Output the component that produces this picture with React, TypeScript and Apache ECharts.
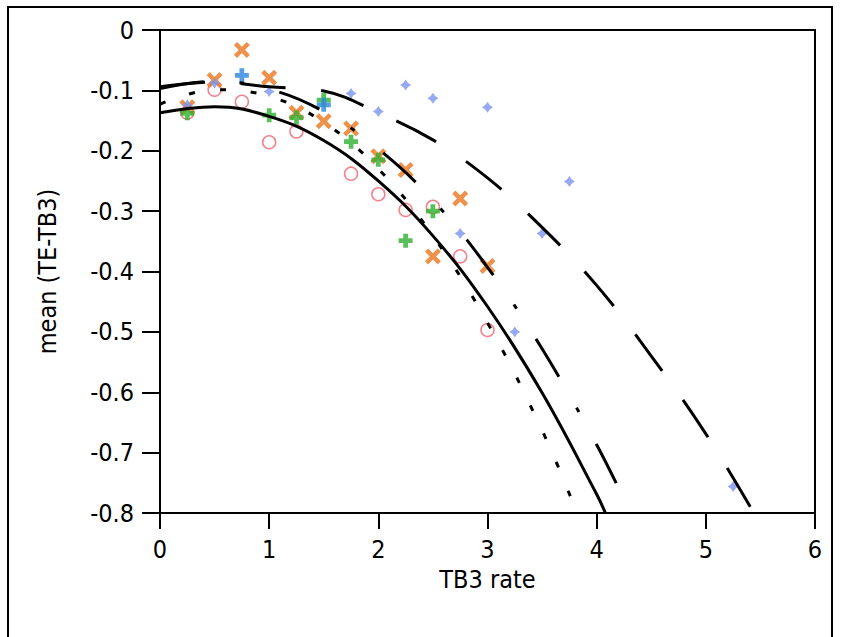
import React, { useEffect, useRef } from "react";
import * as echarts from "echarts";

// Scatter markers (TB3 rate, mean TE-TB3)
const redX = [0.25, 0.5, 0.75, 1.0, 1.25, 1.75, 2.0, 2.25, 2.5, 2.75, 3.0];
const redY = [-0.137, -0.099, -0.119, -0.186, -0.168, -0.238, -0.272, -0.298, -0.293, -0.375, -0.497];

const orangeX = [0.25, 0.5, 0.75, 1.0, 1.25, 1.5, 1.75, 2.0, 2.25, 2.5, 2.75, 3.0];
const orangeY = [-0.128, -0.083, -0.033, -0.079, -0.137, -0.151, -0.163, -0.209, -0.232, -0.375, -0.279, -0.391];

const greenX = [0.25, 1.0, 1.25, 1.5, 1.75, 2.0, 2.25, 2.5];
const greenY = [-0.138, -0.141, -0.145, -0.116, -0.185, -0.215, -0.349, -0.3];

const blueX = [0.75, 1.5];
const blueY = [-0.075, -0.124];

const lightX = [0.25, 0.5, 1.0, 1.75, 2.0, 2.25, 2.5, 2.75, 3.0, 3.25, 3.5, 3.75, 5.25];
const lightY = [-0.124, -0.088, -0.102, -0.105, -0.135, -0.091, -0.113, -0.337, -0.128, -0.5, -0.337, -0.251, -0.756];

// Fitted curves
const solidX = [0, 0.5, 1, 1.5, 2, 2.5, 3, 3.5, 4, 4.08];
const solidY = [-0.137, -0.127, -0.143, -0.183, -0.25, -0.341, -0.458, -0.601, -0.769, -0.8];

const dottedX = [0, 0.5, 1, 1.5, 2, 2.5, 3, 3.5, 3.82];
const dottedY = [-0.123, -0.099, -0.11, -0.153, -0.23, -0.341, -0.485, -0.663, -0.8];

const dashDotX = [0, 0.5, 1, 1.5, 2, 2.5, 3, 3.5, 4, 4.31];
const dashDotY = [-0.097, -0.085, -0.098, -0.135, -0.197, -0.282, -0.393, -0.528, -0.687, -0.8];

const longDashX = [0, 0.5, 1, 1.5, 2, 2.5, 3, 3.5, 4, 4.5, 5, 5.44];
const longDashY = [-0.094, -0.086, -0.094, -0.101, -0.137, -0.182, -0.245, -0.327, -0.423, -0.54, -0.669, -0.8];

const xTicks = [0, 1, 2, 3, 4, 5, 6];

const zip = (xs: number[], ys: number[]) => xs.map((x, i) => [x, ys[i]]);

const FONT = "'DejaVu Sans Condensed', 'Liberation Sans Narrow', 'Liberation Sans', Arial, sans-serif";

const X_PATH =
  "path://M0,2L2,0L5,3L8,0L10,2L7,5L10,8L8,10L5,7L2,10L0,8L3,5Z";
const PLUS_PATH = "path://M3.3,0H6.7V3.3H10V6.7H6.7V10H3.3V6.7H0V3.3H3.3Z";
const STAR_PATH = "path://M5,0L7,3L10,5L7,7L5,10L3,7L0,5L3,3Z";

export default function App() {
  const ref = useRef<HTMLDivElement>(null);
  useEffect(() => {
    if (!ref.current) return;
    const chart = echarts.init(ref.current, null, { renderer: "svg" });
    const lineBase = (data: number[][], type: any, offset = 0) => ({
      type: "line",
      data,
      smooth: 0.4,
      symbol: "none",
      silent: true,
      lineStyle: { color: "#000", width: 3, type, dashOffset: offset, cap: "butt" },
      z: 5,
    });
    chart.setOption({
      animation: false,
      backgroundColor: "#fff",
      graphic: [
        {
          type: "rect",
          shape: { x: 8, y: 7, width: 824, height: 640 },
          style: { fill: "none", stroke: "#000", lineWidth: 2 },
          silent: true,
        },
      ],
      grid: {
        left: 160,
        right: 26,
        top: 30,
        bottom: 124,
        show: true,
        borderColor: "#000",
        borderWidth: 2,
        backgroundColor: "transparent",
      },
      xAxis: {
        type: "value",
        min: 0,
        max: 6,
        interval: 1,
        name: "TB3 rate",
        nameLocation: "middle",
        nameGap: 53,
        nameTextStyle: { fontFamily: FONT, fontSize: 25, color: "#000" },
        axisLine: { show: true, onZero: false, lineStyle: { color: "#000", width: 2 } },
        axisTick: { show: true, length: 16, lineStyle: { color: "#000", width: 2 } },
        axisLabel: {
          margin: 24,
          fontFamily: FONT,
          fontSize: 25,
          color: "#000",
          formatter: (v: number) => (xTicks.includes(v) ? String(v) : ""),
        },
        splitLine: { show: false },
      },
      yAxis: {
        type: "value",
        min: -0.8,
        max: 0,
        interval: 0.1,
        name: "mean (TE-TB3)",
        nameLocation: "middle",
        nameRotate: 90,
        nameGap: 100,
        nameTextStyle: { fontFamily: FONT, fontSize: 25, color: "#000" },
        axisLine: { show: true, onZero: false, lineStyle: { color: "#000", width: 2 } },
        axisTick: { show: true, length: 18, lineStyle: { color: "#000", width: 2 } },
        axisLabel: {
          margin: 26,
          fontFamily: FONT,
          fontSize: 25,
          color: "#000",
          formatter: (v: number) => (Math.abs(v) < 1e-9 ? "0" : (Math.round(v * 10) / 10).toFixed(1)),
        },
        splitLine: { show: false },
      },
      series: [
        {
          type: "scatter",
          data: zip(redX, redY),
          symbol: "circle",
          symbolSize: 13,
          itemStyle: { color: "rgba(255,255,255,0)", borderColor: "#f0606e", borderWidth: 1.5 },
          z: 2,
        },
        {
          type: "scatter",
          data: zip(orangeX, orangeY),
          symbol: X_PATH,
          symbolSize: 16,
          itemStyle: { color: "#e8761e" },
          z: 2,
        },
        {
          type: "scatter",
          data: zip(greenX, greenY),
          symbol: PLUS_PATH,
          symbolSize: 14,
          itemStyle: { color: "#30b030" },
          z: 2,
        },
        {
          type: "scatter",
          data: zip(blueX, blueY),
          symbol: PLUS_PATH,
          symbolSize: 14,
          itemStyle: { color: "#2a86e0" },
          z: 2,
        },
        {
          type: "scatter",
          data: zip(lightX, lightY),
          symbol: STAR_PATH,
          symbolSize: 11,
          itemStyle: { color: "#7a94f2" },
          z: 2,
        },
        lineBase(zip(solidX, solidY), "solid"),
        lineBase(zip(dottedX, dottedY), [6, 25], 0),
        lineBase(zip(dashDotX, dashDotY), [44, 36, 5, 36], 0),
        lineBase(zip(longDashX, longDashY), [45, 36], 0),
      ],
    });
    return () => chart.dispose();
  }, []);
  return (
    <div
      ref={ref}
      style={{ position: "fixed", left: 0, top: 0, width: 841, height: 637, background: "#fff" }}
    />
  );
}
